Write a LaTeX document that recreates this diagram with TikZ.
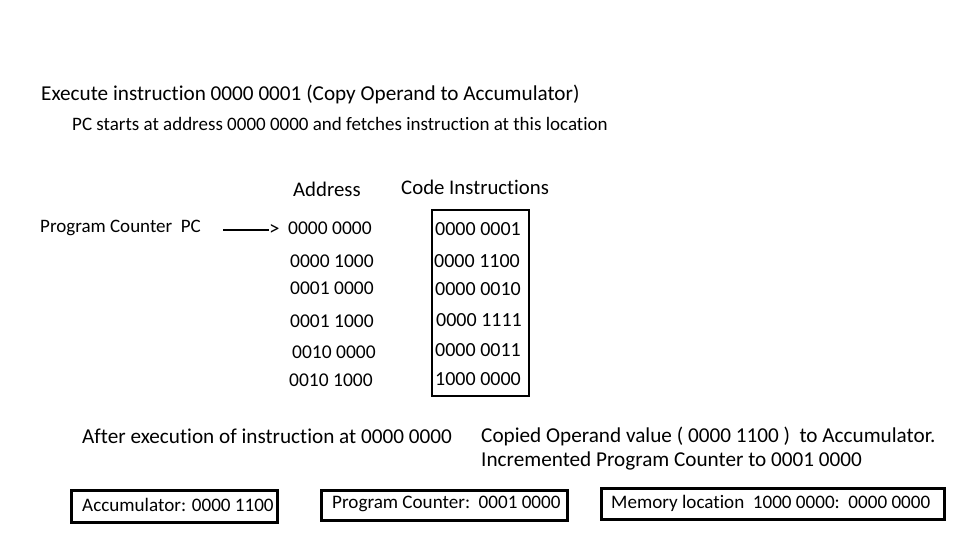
\documentclass[tikz,border=0pt]{standalone}
\usepackage{fontspec}
\setmainfont{Carlito}[Ligatures=NoCommon]
\begin{document}
\begin{tikzpicture}[x=1pt,y=-1pt,
  txt/.style={anchor=west,inner sep=0pt,font=\fontsize{21.2}{24}\selectfont},
  sub/.style={anchor=west,inner sep=0pt,font=\fontsize{19}{22}\selectfont},
  hdr/.style={anchor=west,inner sep=0pt,font=\fontsize{20.8}{24}\selectfont},
  num/.style={anchor=west,inner sep=0pt,font=\fontsize{19.5}{22}\selectfont},
  code/.style={anchor=west,inner sep=0pt,font=\fontsize{20}{22}\selectfont},
  bbox/.style={draw,line width=2.6pt,anchor=north west,inner sep=0pt},
  btxt/.style={anchor=west,inner sep=0pt,font=\fontsize{19.1}{21}\selectfont}]
\useasboundingbox (0,0) rectangle (961,538);
\node[txt] (title) at (41,94) {Execute instruction 0000 0001 (Copy Operand to Accumulator)};
\node[sub] (subt) at (72,124) {PC starts at address 0000 0000 and fetches instruction at this location};
\node[hdr] (haddr) at (293,189) {Address};
\node[hdr] (hcode) at (401,187) {Code Instructions};
\node[sub] (pc) at (40,228) {Program Counter\ \ PC};
\node[anchor=west,inner sep=0pt,font=\fontsize{21}{22}\selectfont] (gt) at (269,230) {>};
\coordinate (as) at (223,230);
\draw[line width=1.3pt] (as) -- (gt.west);
\node[num] (a1) at (288,228) {0000 0000};
\node[num] (a2) at (290,261) {0000 1000};
\node[num] (a3) at (290,288) {0001 0000};
\node[num] (a4) at (290,321) {0001 1000};
\node[num] (a5) at (292,352) {0010 0000};
\node[num] (a6) at (289,380) {0010 1000};
\node[draw,line width=2pt,anchor=north west,minimum width=97pt,minimum height=186pt,inner sep=0pt] (cbox) at (431,209) {};
\node[code] (c1) at (435,229) {0000 0001};
\node[code] (c2) at (434,261) {0000 1100};
\node[code] (c3) at (435,289) {0000 0010};
\node[code] (c4) at (436,320) {0000 1111};
\node[code] (c5) at (435,350) {0000 0011};
\node[code] (c6) at (435,379) {1000 0000};
\node[txt] (after) at (82,436) {After execution of instruction at 0000 0000};
\node[txt] (copied) at (481,436) {Copied Operand value ( 0000 1100 )\ \ to Accumulator.};
\node[txt] (incr) at (481,461) {Incremented Program Counter to 0001 0000};
\node[bbox,minimum width=206pt,minimum height=32pt] (acc) at (70,489) {};
\node[btxt] (acct) at (82,505) {Accumulator: 0000 1100};
\node[bbox,minimum width=246pt,minimum height=30pt] (pcb) at (320,489) {};
\node[btxt] (pcbt) at (332,504) {Program Counter:\ \ 0001 0000};
\node[bbox,minimum width=343pt,minimum height=31pt] (mem) at (600,487) {};
\node[btxt] (memt) at (611,503) {Memory location\ \ 1000 0000:\ \ 0000 0000};
\end{tikzpicture}
\end{document}
